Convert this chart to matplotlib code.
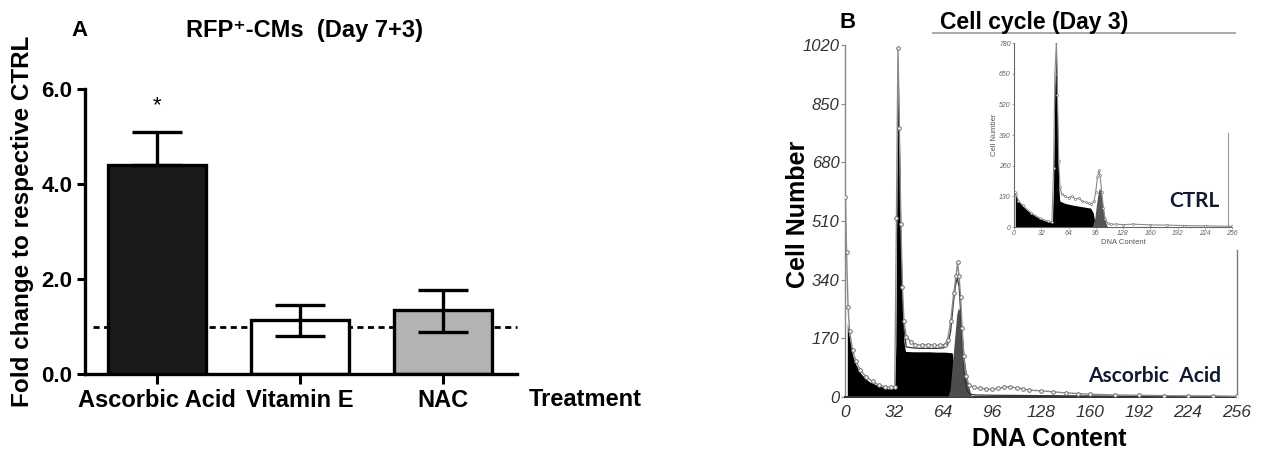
import matplotlib
matplotlib.use("Agg")
import matplotlib.pyplot as plt
from matplotlib.lines import Line2D

# ---------------- Panel A data ----------------
treatments = ["Ascorbic Acid", "Vitamin E", "NAC"]
fold_change = [4.41, 1.14, 1.34]
err_upper = [0.68, 0.31, 0.43]
err_lower = [0.0, 0.33, 0.45]
bar_colors = ["#1a1a1a", "#ffffff", "#b3b3b3"]
yticks_a = [0.0, 2.0, 4.0, 6.0]
ytick_labels_a = ["0.0", "2.0", "4.0", "6.0"]
ctrl_level = 1.0

# ---------------- Panel B data (Ascorbic Acid histogram) ----------------
black_x = [1.5, 3, 5, 7, 10, 13, 16, 20, 24, 28, 31, 32.5, 33.2, 33.9, 34.6,
           35.5, 36.5, 37.5, 38.5, 39.5, 45, 50, 55, 60, 65, 70, 72, 74]
black_y = [214, 170, 120, 95, 70, 55, 44, 36, 30, 24, 24, 26, 150, 600, 1000,
           760, 480, 280, 160, 132, 131, 131, 131, 130, 130, 128, 60, 0]
grey_x = [67, 68.6, 70, 72, 73, 74, 75, 76, 77, 78, 80, 82, 83]
grey_y = [0, 20, 90, 190, 240, 258, 250, 215, 165, 110, 45, 10, 0]
data_x = [0.3, 1, 2, 3, 5, 7, 10, 14, 18, 22, 26, 30, 32.5, 33.6, 34.6, 35.5,
          36.5, 37.5, 38.5, 40, 43, 46, 50, 54, 58, 62, 65, 67, 69, 71, 72.5,
          73.5, 74.5, 75.5, 76.5, 77.5, 79, 81, 84, 88, 92, 96, 100, 104, 108,
          112, 116, 120, 128, 136, 144, 152, 160, 176, 192, 208, 224, 240, 256]
data_y = [580, 420, 260, 190, 135, 105, 78, 58, 45, 35, 30, 28, 30, 520, 1010,
          780, 500, 320, 220, 175, 160, 152, 150, 152, 150, 150, 152, 165, 220,
          300, 350, 390, 350, 290, 200, 120, 60, 35, 28, 25, 24, 22, 26, 28, 30,
          26, 24, 20, 18, 15, 12, 10, 8, 6, 5, 4, 3, 3, 2]
fit_x = [38.5, 40, 45, 50, 55, 60, 64, 67, 69, 70.5, 72, 73.3, 74.5, 75.5,
         76.5, 77.5, 78.5, 80, 82, 85, 96, 128, 160, 192, 224, 256]
fit_y = [200, 145, 142, 141, 141, 141, 142, 150, 190, 260, 320, 345, 320, 250,
         160, 90, 45, 15, 8, 6, 5, 4, 3, 2, 2, 1]
xticks_b = [0, 32, 64, 96, 128, 160, 192, 224, 256]
yticks_b = [0, 170, 340, 510, 680, 850, 1020]

# ---------------- Inset data (CTRL histogram) ----------------
in_black_x = [1.5, 3, 6, 10, 15, 20, 25, 30, 35, 40, 44, 45.2, 46.5, 48,
              49.8, 50.8, 51.8, 52.8, 53.8, 60, 70, 80, 90, 93, 96]
in_black_y = [145, 130, 108, 90, 72, 58, 46, 36, 28, 22, 20, 25, 200, 600,
              775, 560, 300, 160, 110, 100, 92, 86, 80, 60, 0]
in_grey_x = [92, 95, 97, 99, 100.5, 102, 104, 106, 108, 110]
in_grey_y = [0, 40, 100, 150, 165, 150, 100, 50, 15, 0]
in_data_x = [1, 2, 5, 10, 20, 30, 40, 44.5, 46.5, 48, 49.8, 51, 52.5, 54, 56,
             60, 64, 68, 72, 76, 80, 84, 88, 91, 94, 96, 98, 99.5, 101, 103,
             105, 107, 110, 114, 120, 128, 140, 160, 180, 200, 224, 256]
in_data_y = [150, 140, 112, 92, 60, 38, 24, 22, 250, 650, 785, 560, 280, 170,
             140, 130, 125, 130, 118, 122, 110, 105, 100, 98, 110, 150, 210,
             240, 220, 150, 80, 35, 15, 12, 12, 10, 12, 9, 8, 6, 5, 3]
in_yticks = [0, 130, 260, 390, 520, 650, 780]

W, H = 1266, 451
fig = plt.figure(figsize=(W / 100, H / 100), dpi=100)
fig.patch.set_facecolor("white")
BOLD = ["Liberation Sans", "DejaVu Sans"]


def fx(px):
    return px / W


def fy(py):
    return 1 - py / H


# ================= Panel A =================
axA = fig.add_axes([fx(85), fy(374), fx(517) - fx(85), fy(89) - fy(374)])
xpos = list(range(len(treatments)))
axA.plot([-0.447, 2.517], [ctrl_level, ctrl_level], color="black", lw=2.0,
         dashes=(2.2, 1.6), zorder=1, clip_on=False)
axA.bar(xpos, fold_change, width=0.685, color=bar_colors, edgecolor="black",
        linewidth=2.4, zorder=2)
axA.errorbar(xpos, fold_change, yerr=[err_lower, err_upper], fmt="none",
             ecolor="black", elinewidth=2.4, capsize=18, capthick=2.4, zorder=3)
axA.text(0, 5.64, "*", ha="center", va="center", fontsize=16,
         family=BOLD, color="black")
axA.set_xlim(-0.503, 2.517)
axA.set_ylim(0, 6)
axA.set_yticks(yticks_a)
axA.set_yticklabels(ytick_labels_a, fontsize=16, fontweight="bold", family=BOLD)
axA.set_xticks(xpos)
axA.set_xticklabels(treatments, fontsize=17, fontweight="bold", family=BOLD)
axA.tick_params(axis="both", direction="out", width=2.2, length=6, pad=3)
axA.tick_params(axis="x", length=7, pad=4)
for s in ["top", "right"]:
    axA.spines[s].set_visible(False)
for s in ["left", "bottom"]:
    axA.spines[s].set_linewidth(2.4)
axA.set_ylabel("Fold change to respective CTRL", fontsize=17.5,
               fontweight="bold", family=BOLD)
axA.yaxis.set_label_coords(-0.118, 0.535)
fig.text(fx(585), fy(399), "Treatment", ha="center", va="center", fontsize=17,
         fontweight="bold", family=BOLD)
fig.text(fx(80), fy(31), "A", ha="center", va="center", fontsize=16,
         fontweight="bold", family=BOLD)
fig.text(fx(305), fy(31), "RFP⁺-CMs  (Day 7+3)", ha="center", va="center",
         fontsize=17, fontweight="bold", family=BOLD)

# ================= Panel B main =================
axB = fig.add_axes([fx(845), fy(397), fx(1237) - fx(845), fy(45) - fy(397)])
axB.fill_between(black_x, black_y, 0, color="black", lw=0, zorder=2)
axB.fill_between(grey_x, grey_y, 0, color="#4d4d4d", lw=0, zorder=3)
axB.plot(fit_x, fit_y, color="#333333", lw=0.9, zorder=4)
axB.plot(data_x, data_y, color="#8a8a8a", lw=1.0, marker="o", ms=2.6,
         mfc="white", mec="#6a6a6a", mew=0.7, zorder=5)
axB.plot([256, 256], [0, 426], color="#777777", lw=1.0, clip_on=False)
axB.set_xlim(0, 256)
axB.set_ylim(0, 1020)
axB.set_xticks(xticks_b)
axB.set_xticklabels([str(v) for v in xticks_b], fontsize=12.5, style="italic",
                    family=BOLD, color="#333333")
axB.set_yticks(yticks_b)
axB.set_yticklabels([str(v) for v in yticks_b], fontsize=12, style="italic",
                    family=BOLD, color="#333333")
axB.tick_params(axis="y", direction="out", length=3, width=0.8, color="#888888",
                pad=1)
axB.tick_params(axis="x", direction="out", length=0, pad=6)
for s in ["top", "right"]:
    axB.spines[s].set_visible(False)
axB.spines["left"].set_color("#888888")
axB.spines["left"].set_linewidth(1.0)
axB.spines["bottom"].set_color("#333333")
axB.spines["bottom"].set_linewidth(1.4)
axB.set_ylabel("Cell Number", fontsize=18, fontweight="bold", family=BOLD)
axB.yaxis.set_label_coords(-0.09, 0.52)
axB.set_xlabel("DNA Content", fontsize=18, fontweight="bold", family=BOLD)
axB.xaxis.set_label_coords(0.52, -0.085)
axB.text(202, 60, "Ascorbic  Acid", ha="center", va="center", fontsize=15,
         fontweight="bold", family=["Lato", "DejaVu Sans"], color="#0f1a33")
fig.text(fx(848), fy(22), "B", ha="center", va="center", fontsize=16,
         fontweight="bold", family=BOLD)
fig.text(fx(1034), fy(22), "Cell cycle (Day 3)", ha="center", va="center",
         fontsize=16.5, fontweight="bold", family=BOLD)
fig.add_artist(Line2D([fx(933), fx(1235)], [fy(33), fy(33)], color="#9a9a9a",
                      lw=1.2, transform=fig.transFigure))

# ================= Inset =================
axI = fig.add_axes([fx(1014), fy(227), fx(1232) - fx(1014), fy(43) - fy(227)])
axI.patch.set_alpha(0)
axI.fill_between(in_black_x, in_black_y, 0, color="black", lw=0, zorder=2)
axI.fill_between(in_grey_x, in_grey_y, 0, color="#555555", lw=0, zorder=3)
axI.plot(in_data_x, in_data_y, color="#8a8a8a", lw=0.8, marker="o", ms=1.4,
         mfc="white", mec="#777777", mew=0.5, zorder=5)
axI.plot([251, 251], [0, 398], color="#999999", lw=0.8, clip_on=False)
axI.set_xlim(0, 256)
axI.set_ylim(0, 780)
axI.set_xticks(xticks_b)
axI.set_xticklabels([str(v) for v in xticks_b], fontsize=5, style="italic",
                    family=BOLD, color="#666666")
axI.set_yticks(in_yticks)
axI.set_yticklabels([str(v) for v in in_yticks], fontsize=5, style="italic",
                    family=BOLD, color="#666666")
axI.tick_params(axis="both", direction="out", length=1.5, width=0.5,
                color="#888888", pad=1)
for s in ["top", "right"]:
    axI.spines[s].set_visible(False)
for s in ["left", "bottom"]:
    axI.spines[s].set_color("#666666")
    axI.spines[s].set_linewidth(0.8)
axI.set_xlabel("DNA Content", fontsize=5.5, family=BOLD, color="#555555",
               labelpad=1)
axI.set_ylabel("Cell Number", fontsize=5.5, family=BOLD, color="#555555",
               labelpad=1)
axI.text(212, 110, "CTRL", ha="center", va="center", fontsize=15,
         fontweight="bold", family=["Lato", "DejaVu Sans"], color="#0f1a33")

fig.savefig("out.png", dpi=100, facecolor="white")
